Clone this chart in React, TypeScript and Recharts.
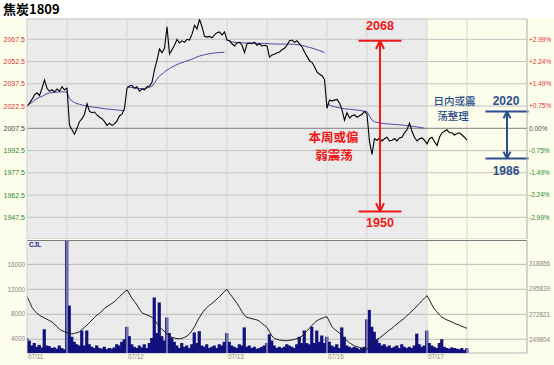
import React from 'react';
import {
  ComposedChart, Line, Bar, XAxis, YAxis, CartesianGrid,
  ReferenceLine, ReferenceArea, ReferenceDot,
} from 'recharts';

// ---------- data ----------
const dayLabels = ['07/11', '07/12', '07/13', '07/16', '07/17'];
const dayStarts = [0, 40, 80, 120, 160];
const sessionBreaks = [16, 40, 56, 80, 96, 120, 136, 160, 176, 200];
const priceTicks = [1947.5, 1962.5, 1977.5, 1992.5, 2007.5, 2022.5, 2037.5, 2052.5, 2067.5];
const prevSettle = 2007.5;
const priceDomain = [1932.9, 2081.2];
const volTicks = [4000, 8000, 12000, 16000];
const volDomain = [1800, 19900];
const oiTicks = [249804, 272821, 295839, 318856];
const oiDomain = [237200, 341200];

const price = [
  2022.5, 2024.5, 2027, 2030, 2031.5, 2029.5, 2034.5, 2040, 2034.5, 2032.5,
  2033.5, 2032, 2034, 2032.5, 2035.5, 2033.5, 2034.5, 2009.5, 2006.5, 2003.5,
  2007.5, 2012, 2014, 2017, 2024, 2019, 2018, 2018.5, 2016.5, 2015,
  2014, 2012, 2009.5, 2011, 2009.5, 2010.5, 2012.5, 2016, 2017, 2021,
  2034.5, 2036, 2036.5, 2034.5, 2035.5, 2032.5, 2034, 2033.5, 2035.5, 2036,
  2038.5, 2047, 2053.5, 2061, 2058.5, 2061.5, 2076, 2057.5, 2060.5, 2063.5,
  2067.5, 2065, 2066.5, 2065.5, 2067.5, 2067, 2071, 2077, 2074.5, 2081,
  2076, 2069.5, 2069, 2069.5, 2068.5, 2070.5, 2072, 2072.5, 2070.5, 2072.5,
  2067, 2066.5, 2064.5, 2063, 2065, 2065.5, 2063.5, 2058.5, 2064.5, 2065,
  2064.5, 2065.5, 2063.5, 2064.5, 2063, 2063.5, 2063, 2055.5, 2057, 2057.5,
  2058.5, 2059, 2060.5, 2061.5, 2063.5, 2066.5, 2067, 2065.5, 2066.5, 2064.5,
  2062.5, 2059, 2056, 2053, 2052, 2049, 2045.5, 2044, 2043, 2040.5,
  2021, 2026.5, 2026, 2026.5, 2027, 2024.5, 2020, 2013, 2018, 2014.5,
  2016, 2016.5, 2015, 2016, 2017, 2019, 2017, 1998.5, 1990, 2000.5,
  1999.5, 2001, 1999, 2000.5, 2001.5, 1999, 1999.5, 2000.5, 1999, 2001,
  2001.5, 2004.5, 2006.5, 2011, 2005.5, 2001.5, 1999, 2000.5, 2001, 1999.5,
  1997, 2000.5, 2001.5, 1998.5, 1996, 2001.5, 2004.5, 2005.5, 2006.5, 2004.5,
  2004.5, 2003, 2004, 2004.5, 2003, 2001.5, 1999.5,
];

const avgPrice = [
  2022.5, 2024, 2025, 2026.5, 2027.5, 2028.5, 2029, 2030, 2031, 2031.3,
  2031.6, 2031.8, 2032, 2032, 2032.1, 2032.1, 2032, 2027.3, 2026, 2024.9,
  2024.2, 2023.7, 2023.2, 2022.9, 2022.5, 2022.2, 2021.9, 2021.7, 2021.5, 2021.2,
  2021, 2020.8, 2020.5, 2020.4, 2020.2, 2020.1, 2019.8, 2019.7, 2019.6, 2019.4,
  2035.5, 2035.3, 2035, 2034.7, 2034.5, 2034.3, 2034.3, 2034.4, 2034.7, 2035.1,
  2036, 2038, 2040.7, 2042.8, 2044.1, 2045.5, 2046.8, 2047.8, 2048.8, 2049.7,
  2050.5, 2051.2, 2051.8, 2052.4, 2053, 2053.5, 2054.2, 2054.9, 2055.6, 2056.2,
  2056.7, 2057.1, 2057.5, 2057.8, 2058.1, 2058.3, 2058.5, 2058.6, 2058.7, 2058.8,
  2067, 2066.4, 2065.8, 2065.5, 2065.3, 2065.3, 2065.2, 2065, 2065, 2065,
  2065, 2064.9, 2064.8, 2064.8, 2064.8, 2064.7, 2064.7, 2064.5, 2064.4, 2064.4,
  2064.3, 2064.3, 2064.3, 2064.3, 2064.3, 2064.3, 2064.2, 2064.1, 2063.9, 2063.7,
  2063.3, 2063, 2062.5, 2062, 2061.6, 2061.1, 2060.4, 2059.9, 2059.3, 2058.6,
  2023.9, 2023.2, 2022.5, 2022.1, 2021.7, 2021.3, 2021, 2020.6, 2020.5, 2020.4,
  2020.2, 2020, 2019.8, 2019.6, 2019.3, 2019, 2018.7, 2015.8, 2013.1, 2011.9,
  2011.5, 2011.2, 2010.9, 2010.7, 2010.5, 2010.4, 2010.3, 2010.1, 2010, 2009.9,
  2009.7, 2009.5, 2009.3, 2009.1, 2008.9, 2008.7, 2008.4, 2008.2, 2007.9, 2007.6,
];

const volume = [
  4200, 3800, 3000, 3400, 2800, 3100, 2700, 5600, 3000, 2900,
  2600, 2700, 2500, 3000, 2600, 2400, 19800, 9400, 4400, 3600,
  3200, 3000, 5400, 3000, 5400, 3200, 2800, 2600, 3000, 2600,
  2500, 2800, 2400, 2600, 2500, 2700, 3200, 3000, 3600, 4000,
  6000, 4500, 3200, 2800, 2600, 3000, 2700, 3200, 2600, 3400,
  4200, 10700, 5000, 9900, 4500, 3800, 7500, 5000, 4200, 3600,
  3000, 2600, 3400, 2800, 3000, 2600, 3200, 5100, 3400, 5300,
  3000, 2800, 3200, 2600, 2800, 3000, 2600, 3200, 3000, 3600,
  5000, 3600, 3000, 2800, 2600, 3200, 3000, 5900, 2800, 3000,
  2600, 2800, 2500, 2600, 2800, 3000, 3400, 4800, 3800, 3000,
  2600, 2800, 2600, 2800, 3200, 3000, 2800, 2600, 3200, 4400,
  3400, 5400, 3400, 3200, 6000, 3400, 5400, 3600, 4600, 3400,
  4400, 3600, 3000, 2800, 3200, 2600, 5900, 4400, 3000, 2800,
  2600, 2800, 2600, 2400, 2600, 2800, 7200, 8700, 6000, 5200,
  4000, 3400, 3000, 3200, 2800, 3000, 2600, 2800, 3000, 2600,
  3200, 2800, 2600, 2800, 2600, 3000, 4900, 3200, 2800, 3000,
  5400, 3400, 3000, 2800, 2600, 3400, 4000, 2800, 2600, 2500,
  2700, 2600, 2500, 2400, 2600, 2300, 2600,
];

const openInterest = [
  289100, 284500, 279200, 276200, 273700, 271900, 270600, 269400, 268200, 267000,
  265700, 263900, 261400, 259000, 257800, 256800, 255900, 255300, 254700, 255300,
  255900, 256800, 259000, 260800, 263000, 265100, 267600, 270000, 272200, 273700,
  275900, 278300, 279800, 281400, 282900, 284500, 286600, 289100, 291200, 293400,
  295200, 291500, 287500, 284500, 281400, 277400, 274300, 273100, 272200, 271300,
  270000, 267600, 264500, 261400, 259000, 257100, 254700, 252800, 251600, 251000,
  250400, 250400, 250700, 251600, 252800, 254700, 257800, 261400, 266000, 270000,
  273700, 276800, 279200, 281100, 282900, 284800, 286900, 289100, 291500, 294000,
  295800, 292100, 289100, 286000, 282900, 279200, 275200, 271900, 270000, 269400,
  268800, 268200, 267600, 266400, 264500, 262700, 260800, 256800, 252800, 250700,
  249800, 249200, 248900, 248500, 248500, 248900, 249200, 249800, 250400, 251300,
  252800, 255300, 257800, 259900, 262700, 265100, 267000, 268200, 269100, 270000,
  270600, 266000, 261400, 259000, 257400, 255300, 252800, 250700, 248500, 246600,
  245100, 243800, 242900, 242300, 241700, 241100, 240500, 243700, 246600, 248500,
  249800, 251000, 252800, 254700, 256500, 258400, 259900, 262100, 263900, 265700,
  267600, 269400, 271600, 273700, 275900, 278000, 280500, 282900, 285400, 287800,
  290000, 286000, 281400, 277400, 275200, 272200, 270000, 268800, 267600, 266700,
  265700, 264500, 263600, 262700, 261700, 260800, 259900,
];

const redRange = { high: 2068, low: 1950, text: ['本周或偏', '弱震荡'] };
const blueRange = { high: 2020, low: 1986, text: ['日内或震', '荡整理'] };

const data = price.map((p, i) => {
  const day = Math.floor(i / 40);
  const a = i < avgPrice.length ? avgPrice[i] : null;
  return {
    i,
    p,
    a0: day % 2 === 0 ? a : null,
    a1: day % 2 === 1 ? a : null,
    v: volume[i],
    oi: openInterest[i],
  };
});

// ---------- styles ----------
const NUM = '"Liberation Sans", Arial, sans-serif';
const CJK = '"Noto Sans CJK SC", "Noto Sans", sans-serif';
const CREAM = '#FDFDEC';
const GRAY = '#EBEBEB';
const RED = '#F01818';
const BLUE = '#2D4E8E';
const VOL = '#10107e';

const PriceTick = (props: any) => {
  const { x, y, payload } = props;
  const v = payload.value;
  const fill = v > prevSettle ? '#E03030' : v < prevSettle ? '#2A8A2A' : '#404040';
  return (
    <text x={x} y={y} dy="0.35em" textAnchor="end" fontSize={7} fill={fill} fontFamily={NUM}>
      {v.toFixed(1)}
    </text>
  );
};

const PctTick = (props: any) => {
  const { x, y, payload } = props;
  const v = payload.value;
  const pct = ((v - prevSettle) / prevSettle) * 100;
  const fill = pct > 0.001 ? '#E03030' : pct < -0.001 ? '#2A8A2A' : '#505050';
  const label = Math.abs(pct) < 0.001 ? '0.00%' : (pct > 0 ? '+' : '') + pct.toFixed(2) + '%';
  return (
    <text x={x} y={y} dy="0.35em" textAnchor="start" fontSize={6.5} fill={fill} fontFamily={NUM}>
      {label}
    </text>
  );
};

const GrayTick = (anchor: 'start' | 'end') => (props: any) => {
  const { x, y, payload } = props;
  return (
    <text x={x} y={y} dy="0.35em" textAnchor={anchor} fontSize={6.3} fill="#858585" fontFamily={NUM}>
      {payload.value}
    </text>
  );
};

const DayTick = (props: any) => {
  const { x, y, payload } = props;
  const idx = dayStarts.indexOf(payload.value);
  return (
    <text x={x + 1} y={y + 5.5} textAnchor="start" fontSize={6.3} fill="#858585" fontFamily={NUM}>
      {idx >= 0 ? dayLabels[idx] : ''}
    </text>
  );
};

const VolBar = (props: any) => {
  const { x, y, width, height } = props;
  if (height == null || height <= 0) return null;
  const w = Math.max(width, 2.5) + 0.7;
  const cx = x + width / 2;
  return <rect x={cx - w / 2} y={y} width={w} height={height} fill={VOL} />;
};

const textShape = (txt: string, color: string, size: number, weight: number, family: string) =>
  (props: any) => (
    <text x={props.cx} y={props.cy} textAnchor="middle" dominantBaseline="central"
      fill={color} fontSize={size} fontWeight={weight} fontFamily={family}>
      {txt}
    </text>
  );

const twoLineShape = (lines: string[], color: string, size: number, weight: number, gap: number, shift: number) =>
  (props: any) => (
    <text textAnchor="middle" dominantBaseline="central" fill={color} fontSize={size}
      fontWeight={weight} fontFamily={CJK}>
      <tspan x={props.cx} y={props.cy - gap / 2}>{lines[0]}</tspan>
      <tspan x={props.cx + shift} y={props.cy + gap / 2}>{lines[1]}</tspan>
    </text>
  );

const ax = { xAxisId: 'x', yAxisId: 'p' } as const;

const arrowSegs = (xc: number, hi: number, lo: number, half: number, headW: number, headH: number) => [
  [{ x: xc - half, y: hi }, { x: xc + half, y: hi }],
  [{ x: xc - half, y: lo }, { x: xc + half, y: lo }],
  [{ x: xc, y: hi }, { x: xc, y: lo }],
  [{ x: xc - headW, y: hi - headH }, { x: xc, y: hi }],
  [{ x: xc + headW, y: hi - headH }, { x: xc, y: hi }],
  [{ x: xc - headW, y: lo + headH }, { x: xc, y: lo }],
  [{ x: xc + headW, y: lo + headH }, { x: xc, y: lo }],
];

const MainChart = () => {
  const redSegs = arrowSegs(141.2, redRange.high - 1.5, redRange.low + 1.5, 8.6, 1.6, 5.5);
  const blueSegs = arrowSegs(192, blueRange.high - 1.2, blueRange.low + 1.2, 8.6, 1.4, 4.6);
  return (
    <ComposedChart width={554} height={239} data={data} margin={{ top: 19, right: 0, bottom: 0, left: 0 }}>
      <XAxis xAxisId="x" dataKey="i" type="number" domain={[0, 200]} hide allowDataOverflow />
      <YAxis yAxisId="p" orientation="left" width={27} domain={priceDomain} ticks={priceTicks}
        tick={<PriceTick />} tickLine={false} tickSize={2} tickMargin={0} interval={0}
        axisLine={{ stroke: '#cfcfcf' }} allowDataOverflow />
      <YAxis yAxisId="pct" orientation="right" width={27} domain={priceDomain} ticks={priceTicks}
        tick={<PctTick />} tickLine={false} tickSize={2} tickMargin={0} interval={0}
        axisLine={{ stroke: '#bdbdbd' }} allowDataOverflow />
      <ReferenceArea {...ax} x1={0} x2={160} fill={GRAY} fillOpacity={1} stroke="none" zIndex={-200} />
      <CartesianGrid xAxisId="x" yAxisId="p" vertical={false} stroke="#c2c2c2" />
      {sessionBreaks.map((b) => (
        <ReferenceLine key={'v' + b} {...ax} x={b} stroke="#d5d5d5" />
      ))}
      <ReferenceLine {...ax} y={prevSettle} stroke="#8c8c8c" />
      <Line {...ax} dataKey="a0" stroke="#4848a8" strokeWidth={1} dot={false} isAnimationActive={false} connectNulls={false} />
      <Line {...ax} dataKey="a1" stroke="#4848a8" strokeWidth={1} dot={false} isAnimationActive={false} connectNulls={false} />
      <Line {...ax} dataKey="p" stroke="#000" strokeWidth={1.1} dot={false} isAnimationActive={false} />
      {redSegs.map((s, k) => (
        <ReferenceLine key={'r' + k} {...ax} segment={s} stroke={RED} strokeWidth={2} ifOverflow="visible" />
      ))}
      {blueSegs.map((s, k) => (
        <ReferenceLine key={'b' + k} {...ax} segment={s} stroke={BLUE} strokeWidth={2} ifOverflow="visible" />
      ))}
      <ReferenceDot {...ax} x={141.2} y={2076.5} r={0} ifOverflow="visible"
        shape={textShape(String(redRange.high), RED, 12.5, 700, NUM)} />
      <ReferenceDot {...ax} x={141.2} y={1943.5} r={0} ifOverflow="visible"
        shape={textShape(String(redRange.low), RED, 12.5, 700, NUM)} />
      <ReferenceDot {...ax} x={122.6} y={1996.1} r={0} ifOverflow="visible"
        shape={twoLineShape(redRange.text, RED, 12.5, 700, 18.2, 0.5)} />
      <ReferenceDot {...ax} x={171} y={2021.7} r={0} ifOverflow="visible"
        shape={twoLineShape(blueRange.text, BLUE, 10.5, 500, 15.5, -1.5)} />
      <ReferenceDot {...ax} x={191.6} y={2025.9} r={0} ifOverflow="visible"
        shape={textShape(String(blueRange.high), BLUE, 12, 700, NUM)} />
      <ReferenceDot {...ax} x={191.6} y={1978.7} r={0} ifOverflow="visible"
        shape={textShape(String(blueRange.low), BLUE, 12, 700, NUM)} />
    </ComposedChart>
  );
};

const VolumeChart = () => (
  <ComposedChart width={554} height={125} data={data} margin={{ top: 0, right: 0, bottom: 0, left: 0 }}
    barGap={0} barCategoryGap={0}>
    <XAxis xAxisId="x" dataKey="i" type="number" domain={[0, 200]} ticks={dayStarts} interval={0}
      tick={<DayTick />} tickLine={false} axisLine={false} height={12} tickSize={0} tickMargin={0} allowDataOverflow />
    <YAxis yAxisId="v" orientation="left" width={27} domain={volDomain} ticks={volTicks}
      tick={GrayTick('end')} tickLine={false} tickSize={2} tickMargin={0} interval={0}
      axisLine={{ stroke: '#cfcfcf' }} allowDataOverflow />
    <YAxis yAxisId="oi" orientation="right" width={27} domain={oiDomain} ticks={oiTicks}
      tick={GrayTick('start')} tickLine={false} tickSize={2} tickMargin={0} interval={0}
      axisLine={{ stroke: '#bdbdbd' }} allowDataOverflow />
    <ReferenceArea xAxisId="x" yAxisId="v" x1={0} x2={160} fill={GRAY} fillOpacity={1} stroke="none" zIndex={-200} />
    <CartesianGrid xAxisId="x" yAxisId="v" vertical={false} stroke="#b8b8b8" />
    {sessionBreaks.map((b) => (
      <ReferenceLine key={'vv' + b} xAxisId="x" yAxisId="v" x={b} stroke="#d5d5d5" />
    ))}
    <ReferenceLine xAxisId="x" yAxisId="v" y={volDomain[1]} stroke="#7c7c7c" strokeWidth={2} />
    <Bar xAxisId="x" yAxisId="v" dataKey="v" fill={VOL} shape={<VolBar />} isAnimationActive={false} />
    <Line xAxisId="x" yAxisId="oi" dataKey="oi" stroke="#1c1c1c" strokeWidth={1} dot={false} isAnimationActive={false} />
  </ComposedChart>
);

export default function App() {
  return (
    <div style={{ position: 'absolute', left: 0, top: 0, width: 554, height: 365, background: CREAM, overflow: 'hidden' }}>
      <div style={{ position: 'absolute', left: 0, top: 0, width: 554, height: 18, background: '#ffffff' }} />
      <div style={{ position: 'absolute', left: 0, top: 0 }}>
        <MainChart />
      </div>
      <div style={{ position: 'absolute', left: 0, top: 240 }}>
        <VolumeChart />
      </div>
      <div style={{ position: 'absolute', left: 3, top: 0, fontSize: 13, fontWeight: 700, fontFamily: CJK, lineHeight: '18px', color: '#000' }}>
        焦炭1809
      </div>
      <div style={{ position: 'absolute', left: 29, top: 241, fontSize: 6.5, fontWeight: 700, fontFamily: NUM, color: '#23238a' }}>
        CJL
      </div>
    </div>
  );
}
